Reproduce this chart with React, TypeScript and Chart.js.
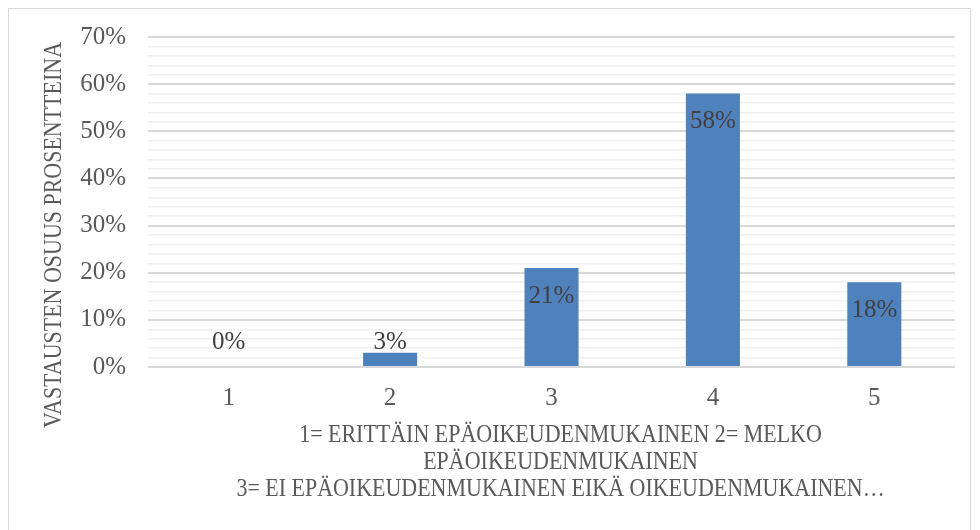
import React, { useEffect, useRef } from "react";
import { Chart, registerables } from "chart.js";

Chart.register(...registerables);

const categories = ["1", "2", "3", "4", "5"];
const values = [0, 3, 21, 58, 18];
const yMax = 70;
const yStep = 2;
const yMajorStep = 10;
const yTitle = "VASTAUSTEN OSUUS PROSENTTEINA";
const xTitleLines = [
  "1= ERITTÄIN EPÄOIKEUDENMUKAINEN 2= MELKO",
  "EPÄOIKEUDENMUKAINEN",
  "3= EI EPÄOIKEUDENMUKAINEN EIKÄ OIKEUDENMUKAINEN…",
];

const FONT = '"Liberation Serif", "Times New Roman", serif';
const SQUEEZE = 0.845;

const labelsPlugin = {
  id: "customLabels",
  afterDatasetsDraw(chart: any) {
    const ctx = chart.ctx;
    const meta = chart.getDatasetMeta(0);
    const base = chart.scales.y.getPixelForValue(0);
    ctx.save();
    ctx.font = `25px ${FONT}`;
    ctx.fillStyle = "#404040";
    ctx.textAlign = "center";
    ctx.textBaseline = "middle";
    meta.data.forEach((bar: any, i: number) => {
      const v = values[i];
      let y: number;
      if (v < 5) {
        y = Math.min(bar.y - 10, base - 25);
      } else {
        y = bar.y + 28;
      }
      ctx.fillText(`${v}%`, bar.x, y);
    });
    ctx.restore();
  },
  afterDraw(chart: any) {
    const ctx = chart.ctx;
    const { left, right, bottom } = chart.chartArea;
    ctx.save();
    ctx.fillStyle = "#595959";
    ctx.font = `26px ${FONT}`;
    ctx.textAlign = "center";
    ctx.textBaseline = "middle";
    const cx = (left + right) / 2 + 9;
    xTitleLines.forEach((line, i) => {
      ctx.save();
      ctx.translate(cx, bottom + 68 + i * 27);
      ctx.scale(SQUEEZE, 1);
      ctx.fillText(line, 0, 0);
      ctx.restore();
    });
    ctx.save();
    ctx.translate(45, 226);
    ctx.rotate(-Math.PI / 2);
    ctx.scale(SQUEEZE, 1);
    ctx.fillText(yTitle, 0, 0);
    ctx.restore();
    ctx.restore();
  },
};

export default function App() {
  const ref = useRef<HTMLCanvasElement | null>(null);
  useEffect(() => {
    if (!ref.current) return;
    const chart = new Chart(ref.current, {
      type: "bar",
      data: {
        labels: categories,
        datasets: [
          {
            data: values,
            backgroundColor: "#4f81bd",
            borderWidth: 0,
            barPercentage: 0.67,
            categoryPercentage: 0.5,
          },
        ],
      },
      options: {
        animation: false,
        responsive: false,
        maintainAspectRatio: false,
        layout: { padding: { top: 28, right: 15, left: 0, bottom: 0 } },
        plugins: { legend: { display: false }, tooltip: { enabled: false } },
        scales: {
          x: {
            grid: { display: false, drawTicks: false },
            border: { display: false },
            ticks: { color: "#595959", font: { family: FONT, size: 25 }, padding: 16 },
            afterFit(scale: any) {
              scale.height = 180;
              scale.paddingLeft = 0;
              scale.paddingRight = 0;
            },
          },
          y: {
            min: 0,
            max: yMax,
            border: { display: false },
            grid: {
              drawTicks: false,
              color: (c: any) =>
                c.tick && Math.round(c.tick.value) % yMajorStep === 0 ? "#d9d9d9" : "#efefef",
              lineWidth: (c: any) =>
                c.tick && Math.round(c.tick.value) % yMajorStep === 0 ? 2 : 1.5,
            },
            ticks: {
              stepSize: yStep,
              autoSkip: false,
              color: "#595959",
              font: { family: FONT, size: 25 },
              padding: 22,
              callback: (v: any) => (Math.round(v) % yMajorStep === 0 ? `${v}%` : ""),
            },
            afterFit(scale: any) {
              scale.width = 139;
              scale.paddingTop = 0;
              scale.paddingBottom = 0;
            },
          },
        },
      },
      plugins: [labelsPlugin],
    });
    return () => chart.destroy();
  }, []);
  return (
    <div
      style={{
        width: 963,
        height: 540,
        border: "1px solid #d9d9d9",
        boxSizing: "border-box",
        background: "#fff",
      }}
    >
      <canvas ref={ref} width={961} height={538} />
    </div>
  );
}
